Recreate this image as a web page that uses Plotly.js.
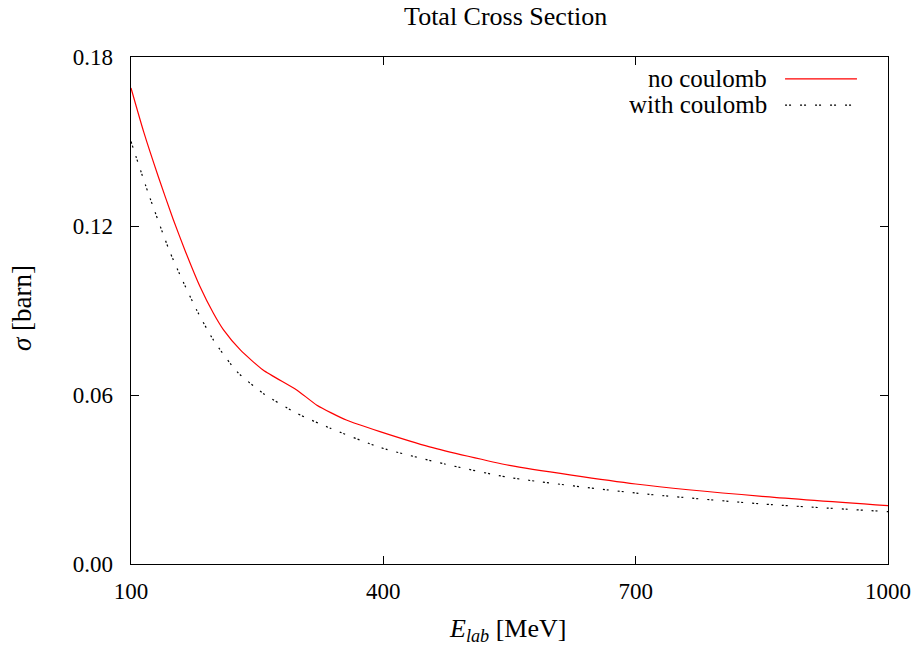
<!DOCTYPE html>
<html>
<head>
<meta charset="utf-8">
<script src="https://cdn.plot.ly/plotly-3.0.1.min.js"></script>
<style>html,body{margin:0;padding:0;background:#fff;}#chart{width:916px;height:648px;}</style>
</head>
<body>
<div id="chart"></div>
<script>
// Energy (MeV) and total cross section (barn)
const energyNoCoul = [100, 115, 132.5, 150, 164, 182, 198, 210, 230, 257, 297, 321, 356, 396, 455, 550, 700, 850, 1000];
const sigmaNoCoul  = [0.169, 0.1535, 0.1375, 0.1225, 0.1115, 0.0985, 0.089, 0.0831, 0.076, 0.0689, 0.0618, 0.0564, 0.0511, 0.047, 0.0416, 0.0350, 0.0284, 0.0240, 0.0207];

const energyCoul = [100, 120.6, 145.3, 158.3, 178, 198, 226, 257, 297, 337, 396, 473, 550, 700, 851, 1000];
const sigmaCoul  = [0.150, 0.1316, 0.1115, 0.1026, 0.0902, 0.0795, 0.0683, 0.0606, 0.0535, 0.0482, 0.0414, 0.0355, 0.0307, 0.0252, 0.0213, 0.0186];

const seriesNames = ["no coulomb", "with coulomb"];
const xTicks = [100, 400, 700, 1000];
const yTicks = [0.00, 0.06, 0.12, 0.18];
const yTickLabels = ["0.00", "0.06", "0.12", "0.18"];

const font = "Liberation Serif";
const fsize = 23;

const traces = [
  {x: energyNoCoul, y: sigmaNoCoul, mode: "lines", name: seriesNames[0],
   line: {color: "#ff0000", width: 1.2, shape: "spline", smoothing: 0.6}, showlegend: false},
  {x: energyCoul, y: sigmaCoul, mode: "lines", name: seriesNames[1],
   line: {color: "#000000", width: 1.2, dash: "2px,2px,2px,9px", shape: "spline", smoothing: 0.6}, showlegend: false}
];

const axisCommon = {
  showgrid: false, zeroline: false, showline: true, linecolor: "#000", linewidth: 1.3,
  mirror: "allticks", ticks: "inside", ticklen: 8, tickwidth: 1, tickcolor: "#000",
  automargin: false,
  tickfont: {family: font, size: fsize, color: "#000"}
};

const layout = {
  width: 916, height: 648,
  margin: {l: 131, r: 28, t: 57, b: 84},
  paper_bgcolor: "#fff", plot_bgcolor: "#fff",
  font: {family: font, size: fsize, color: "#000"},
  title: {text: "Total Cross Section", font: {family: font, size: 26, color: "#000"},
          xref: "paper", x: 0.495, xanchor: "center", y: 0.975, yanchor: "middle"},
  xaxis: Object.assign({}, axisCommon, {
    range: [100, 1000], tickvals: xTicks, ticktext: xTicks.map(String), ticklabelstandoff: 6
  }),
  yaxis: Object.assign({}, axisCommon, {
    range: [0, 0.18], tickvals: yTicks, ticktext: yTickLabels, ticklabelstandoff: 12
  }),
  annotations: [
    {xref: "paper", yref: "paper", x: 0.497, y: -0.13, xanchor: "center", yanchor: "middle",
     text: "<i>E</i><sub><i>lab</i></sub> [MeV]", showarrow: false, font: {family: font, size: 26, color: "#000"}},
    {xref: "paper", yref: "paper", x: -0.144, y: 0.505, xanchor: "center", yanchor: "middle", textangle: -90,
     text: "<i>σ</i> [barn]", showarrow: false, font: {family: font, size: 27, color: "#000"}},
    {xref: "paper", yref: "paper", x: 0.8415, y: 0.9586, xanchor: "right", yanchor: "middle",
     text: seriesNames[0], showarrow: false, height: 24, borderpad: 0, font: {family: font, size: 25, color: "#000"}},
    {xref: "paper", yref: "paper", x: 0.8415, y: 0.9073, xanchor: "right", yanchor: "middle",
     text: seriesNames[1], showarrow: false, height: 24, borderpad: 0, font: {family: font, size: 25, color: "#000"}}
  ],
  shapes: [
    {type: "line", xref: "paper", yref: "paper", x0: 0.864, x1: 0.959, y0: 0.957, y1: 0.957,
     line: {color: "#ff0000", width: 1.2}},
    {type: "line", xref: "paper", yref: "paper", x0: 0.864, x1: 0.959, y0: 0.905, y1: 0.905,
     line: {color: "#000", width: 1.2, dash: "2px,2px,2px,9px"}}
  ]
};

Plotly.newPlot("chart", traces, layout, {displayModeBar: false, staticPlot: true});
</script>
</body>
</html>
